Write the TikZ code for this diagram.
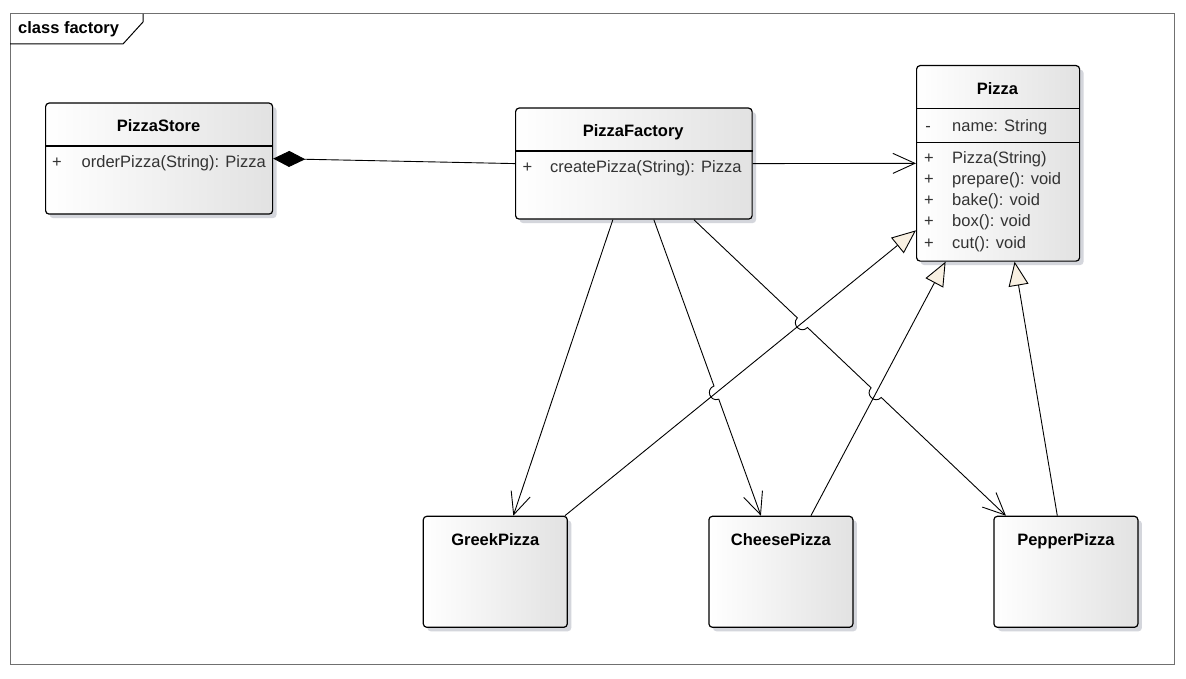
\documentclass[tikz,border=0pt]{standalone}
\usepackage{fontspec}
\setmainfont{Liberation Sans}
\usetikzlibrary{
	calc,
	positioning,
	arrows.meta,
	shadows,
	intersections
}
\definecolor{boxgray}{RGB}{226,226,226}
\definecolor{shadowgray}{RGB}{212,214,220}
\definecolor{memgray}{RGB}{51,51,51}
\definecolor{framegray}{RGB}{112,112,112}
\definecolor{trifill}{RGB}{248,240,226}
\newcommand{\umlfont}{\fontsize{16.5}{20}\selectfont}

\begin{document}
\begin{tikzpicture}[x=1pt,y=-1pt,
 classbox/.style = {draw=black, line width=1.2pt, rounded corners=3.5pt, inner sep=0pt, anchor=north west,
   left color=white, right color=boxgray,
   drop shadow={shadow xshift=4pt, shadow yshift=-4pt, fill=shadowgray, opacity=1}},
 classname/.style = {font=\umlfont\bfseries, inner sep=0pt, anchor=base},
 member/.style = {font=\umlfont, text=memgray, inner sep=0pt, anchor=base west},
 vis/.style = {font=\umlfont, text=memgray, inner sep=0pt, anchor=base},
 compline/.style = {line width=1.2pt},
 assoc/.style = {-{Straight Barb[length=22pt,width=20pt]}, line width=0.9pt},
 gen/.style = {-{Triangle[length=24pt,width=20pt,fill=trifill]}, line width=0.9pt},
 comp/.style = {{Diamond[length=32pt,width=16pt]}-, line width=0.9pt},
 hop/.style = {bend right=90, looseness=1.7},
]

\fill[white] (0,0) rectangle (1186,679);
\useasboundingbox (0,0) rectangle (1186,679);

% frame
\draw[framegray, line width=1pt] (10,14) rectangle (1174,664);
\draw[line width=1pt] (10,44) -- (123,44) -- (143,22) -- (143,14);
\node[classname, anchor=base west] (frame-name) at (18,34) {class factory};

% classes
\node[classbox, minimum width=227, minimum height=111] (store) at (45,102.5) {};
\node[classbox, minimum width=236.5, minimum height=111] (factory) at (515,107.5) {};
\node[classbox, minimum width=163, minimum height=195.5] (pizza) at (916,65) {};
\node[classbox, minimum width=144, minimum height=111] (greek) at (422.7,515.7) {};
\node[classbox, minimum width=144, minimum height=111] (cheese) at (708.3,515.7) {};
\node[classbox, minimum width=144, minimum height=111] (pepper) at (993.3,515.7) {};

\draw[compline] (store.west |- 0,146) -- (store.east |- 0,146);
\draw[compline] (factory.west |- 0,151) -- (factory.east |- 0,151);
\draw[compline] (pizza.west |- 0,108.5) -- (pizza.east |- 0,108.5);
\draw[compline] (pizza.west |- 0,142.5) -- (pizza.east |- 0,142.5);

\node[classname] (store-name) at (158.5,132) {PizzaStore};
\node[vis] (store-vis) at (57,168) {+};
\node[member] (store-op) at (81.5,168) {orderPizza(String): Pizza};

\node[classname] (factory-name) at (633.2,137) {PizzaFactory};
\node[vis] (factory-vis) at (527.5,173) {+};
\node[member] (factory-op) at (550,173) {createPizza(String): Pizza};

\node[classname] (pizza-name) at (997.5,95) {Pizza};
\node[vis] (pizza-vis0) at (928,131.5) {-};
\node[member] (pizza-attr) at (952,131.5) {name: String};
\node[vis] (pizza-vis1) at (929,164) {+};
\node[member] (pizza-op1) at (952,164) {Pizza(String)};
\node[vis] (pizza-vis2) at (929,185) {+};
\node[member] (pizza-op2) at (952,185) {prepare(): void};
\node[vis] (pizza-vis3) at (929,206) {+};
\node[member] (pizza-op3) at (952,206) {bake(): void};
\node[vis] (pizza-vis4) at (929,227) {+};
\node[member] (pizza-op4) at (952,227) {box(): void};
\node[vis] (pizza-vis5) at (929,248) {+};
\node[member] (pizza-op5) at (952,248) {cut(): void};

\node[classname] (greek-name) at ([yshift=-29.5pt]greek.north) {GreekPizza};
\node[classname] (cheese-name) at ([yshift=-29.5pt]cheese.north) {CheesePizza};
\node[classname] (pepper-name) at ([yshift=-29.5pt]pepper.north) {PepperPizza};

% relations
\draw[comp] (store.east) -- (factory.west);
\draw[assoc] (factory.east) -- (pizza.west);
\draw[assoc] ([xshift=-21pt]factory.south) -- ([xshift=18pt]greek.north);
\draw[gen, name path=gp] ([xshift=-3pt]greek.north east) -- ([yshift=-67pt]pizza.west);
\draw[gen, name path=cp] ([xshift=30pt]cheese.north) -- ([xshift=-52.5pt]pizza.south);
\draw[gen] ([xshift=-8.6pt]pepper.north) -- ([xshift=16.5pt]pizza.south);

\coordinate (fc-start) at ([xshift=20pt]factory.south);
\coordinate (fc-end) at ([xshift=-20pt]cheese.north);
\coordinate (fp-start) at ([xshift=60pt]factory.south);
\coordinate (fp-end) at ([xshift=-60pt]pepper.north);
\path[name path=fc] (fc-start) -- (fc-end);
\path[name path=fp] (fp-start) -- (fp-end);
\path[name intersections={of=fc and gp, by=hop1}];
\path[name intersections={of=fp and gp, by=hop2}];
\path[name intersections={of=fp and cp, by=hop3}];

\draw[assoc] (fc-start) -- ($(hop1)!7pt!(fc-start)$) to[hop] ($(hop1)!7pt!(fc-end)$) -- (fc-end);
\draw[assoc] (fp-start) -- ($(hop2)!7pt!(fp-start)$) to[hop] ($(hop2)!7pt!(fp-end)$)
  -- ($(hop3)!7pt!(fp-start)$) to[hop] ($(hop3)!7pt!(fp-end)$) -- (fp-end);
\end{tikzpicture}
\end{document}
